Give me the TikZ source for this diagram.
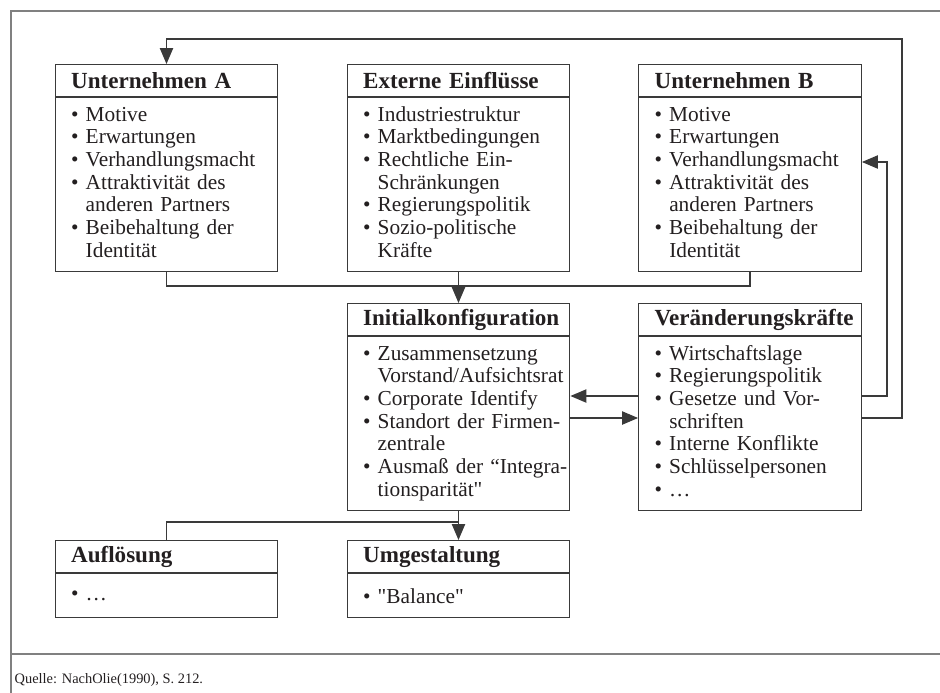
\documentclass[tikz,border=0pt]{standalone}
\usepackage{fontspec}
\setmainfont{Liberation Serif}
\usetikzlibrary{arrows.meta}

\definecolor{ink}{HTML}{231F20}
\definecolor{rule}{HTML}{3A3A3A}
\definecolor{frame}{HTML}{808080}

\tikzset{
  head/.style={draw=rule, line width=0.9pt, anchor=north, inner xsep=12pt, inner ysep=0pt,
    text width=143pt, minimum height=24pt, align=left, text=ink,
    font=\fontsize{17.3}{18}\selectfont\bfseries},
  body/.style={draw=rule, line width=0.9pt, anchor=north, inner xsep=12pt, inner ysep=0pt,
    text width=143pt, minimum height=130pt, align=left, text=ink,
    font=\fontsize{16}{17}\selectfont},
  conn/.style={draw=rule, line width=0.9pt},
  arr/.style={conn, -{Triangle[length=12pt,width=10pt]}},
}

\begin{document}
\begin{tikzpicture}[x=0.75pt,y=-0.75pt]
\useasboundingbox (0,0) rectangle (940,693);

% outer frame
\draw[frame, line width=1pt] (940,11) -- (11,11) -- (11,693);
\draw[frame, line width=1pt] (11,654) -- (940,654);

% first row
\node[head] (aHead) at (166.5,64) {Unternehmen A};
\node[body] (aBody) at (aHead.south) {\begin{tabular}{@{}l@{\ }l@{}}
\textbullet & Motive\\
\textbullet & Erwartungen\\
\textbullet & Verhandlungsmacht\\
\textbullet & Attraktivität des\\
 & anderen Partners\\
\textbullet & Beibehaltung der\\
 & Identität
\end{tabular}};

\node[head] (extHead) at (458.5,64) {Externe Einflüsse};
\node[body] (extBody) at (extHead.south) {\begin{tabular}{@{}l@{\ }l@{}}
\textbullet & Industriestruktur\\
\textbullet & Marktbedingungen\\
\textbullet & Rechtliche Ein-\\
 & Schränkungen\\
\textbullet & Regierungspolitik\\
\textbullet & Sozio-politische\\
 & Kräfte
\end{tabular}};

\node[head] (bHead) at (750,64) {Unternehmen B};
\node[body] (bBody) at (bHead.south) {\begin{tabular}{@{}l@{\ }l@{}}
\textbullet & Motive\\
\textbullet & Erwartungen\\
\textbullet & Verhandlungsmacht\\
\textbullet & Attraktivität des\\
 & anderen Partners\\
\textbullet & Beibehaltung der\\
 & Identität
\end{tabular}};

% second row
\node[head] (initHead) at (458.5,303) {Initialkonfiguration};
\node[body] (initBody) at (initHead.south) {\begin{tabular}{@{}l@{\ }l@{}}
\textbullet & Zusammensetzung\\
 & Vorstand/Aufsichtsrat\\
\textbullet & Corporate Identify\\
\textbullet & Standort der Firmen-\\
 & zentrale\\
\textbullet & Ausmaß der “Integra-\\
 & tionsparität\textquotedbl
\end{tabular}};

\node[head] (verHead) at (750,303) {Veränderungskräfte};
\node[body] (verBody) at (verHead.south) {\begin{tabular}{@{}l@{\ }l@{}}
\textbullet & Wirtschaftslage\\
\textbullet & Regierungspolitik\\
\textbullet & Gesetze und Vor-\\
 & schriften\\
\textbullet & Interne Konflikte\\
\textbullet & Schlüsselpersonen\\
\textbullet & \dots
\end{tabular}};

% third row
\node[head] (aufHead) at (166.5,540) {Auflösung};
\node[body, minimum height=33pt] (aufBody) at (aufHead.south) {\textbullet\ \dots};

\node[head] (umgHead) at (458.5,540) {Umgestaltung};
\node[body, minimum height=33pt] (umgBody) at (umgHead.south) {\textbullet\ \textquotedbl Balance\textquotedbl};

% connectors
\draw[conn] (aBody.south) |- (458.5,286) -| (bBody.south);
\draw[arr] (extBody.south) -- (initHead.north);

\draw[arr] (verBody.west |- 0,396) -- (initBody.east |- 0,396);
\draw[arr] (initBody.east |- 0,418) -- (verBody.west |- 0,418);

\draw[arr] (verBody.east |- 0,396) -| (887,300) |- (bBody.east |- 0,162);
\draw[arr] (verBody.east |- 0,418) -| (902,39) -| (aHead.north);

\draw[arr] (initBody.south) -- (umgHead.north);
\draw[conn] (aufHead.north) |- (initBody.south |- 0,522);

% source
\node[anchor=west, text=ink, font=\fontsize{10.8}{12}\selectfont] (src) at (10,680) {Quelle: NachOlie(1990), S. 212.};
\end{tikzpicture}
\end{document}
